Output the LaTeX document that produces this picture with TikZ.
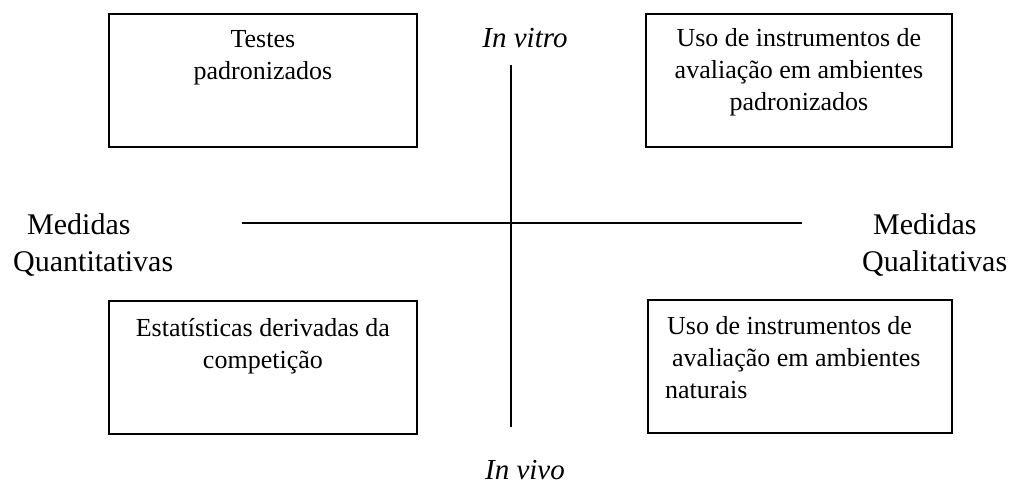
\documentclass[tikz,border=0pt]{standalone}
\usepackage{fontspec}
\setmainfont{Liberation Serif}
\usetikzlibrary{positioning}

\begin{document}
\begin{tikzpicture}[
  x=1pt,
  y=-1pt,
  quad/.style={draw=black, line width=1.8pt, minimum height=133pt, anchor=north west, inner sep=0pt},
  quadtext/.style={inner sep=0pt, align=center, font=\fontsize{26}{32}\selectfont},
  sidelabel/.style={inner sep=0pt, align=left, anchor=north west, font=\fontsize{30}{37}\selectfont},
  poletext/.style={inner sep=0pt, anchor=base, font=\fontsize{29}{35}\selectfont\itshape},
  axis/.style={black, line width=1.7pt}
]
\useasboundingbox (0,0) rectangle (1013,488);

% the four quadrants
\node[quad, minimum width=308pt] (tl) at (108,13) {};
\node[quad, minimum width=306pt] (tr) at (645,13) {};
\node[quad, minimum width=308pt] (bl) at (108,300) {};
\node[quad, minimum width=304pt] (br) at (647,299) {};

\node[quadtext, below=17pt of tl.north] (tltext) {Testes\\padronizados};
\node[quadtext, below=15pt of tr.north] (trtext) {Uso de instrumentos de\\avaliação em ambientes\\padronizados};
\node[quadtext, below=18pt of bl.north] (bltext) {Estatísticas derivadas da\\competição};
\node[quadtext, align=left, anchor=north west] (brtext) at (665,316) {\hspace*{2pt}Uso de instrumentos de\\\hspace*{7pt}avaliação em ambientes\\naturais};

% axes
\coordinate (up) at (511,65);
\coordinate (down) at (511,427);
\coordinate (left) at (242,223);
\coordinate (right) at (802,223);
\draw[axis] (up) -- (down);
\draw[axis] (left) -- (right);

\node[poletext] (vitro) at (525,47) {In vitro};
\node[poletext] (vivo) at (525,479) {In vivo};

\node[sidelabel] (quanti) at (13,213) {\hspace*{14pt}Medidas\\Quantitativas};
\node[sidelabel] (quali) at (862,213) {\hspace*{11pt}Medidas\\Qualitativas};
\end{tikzpicture}
\end{document}
